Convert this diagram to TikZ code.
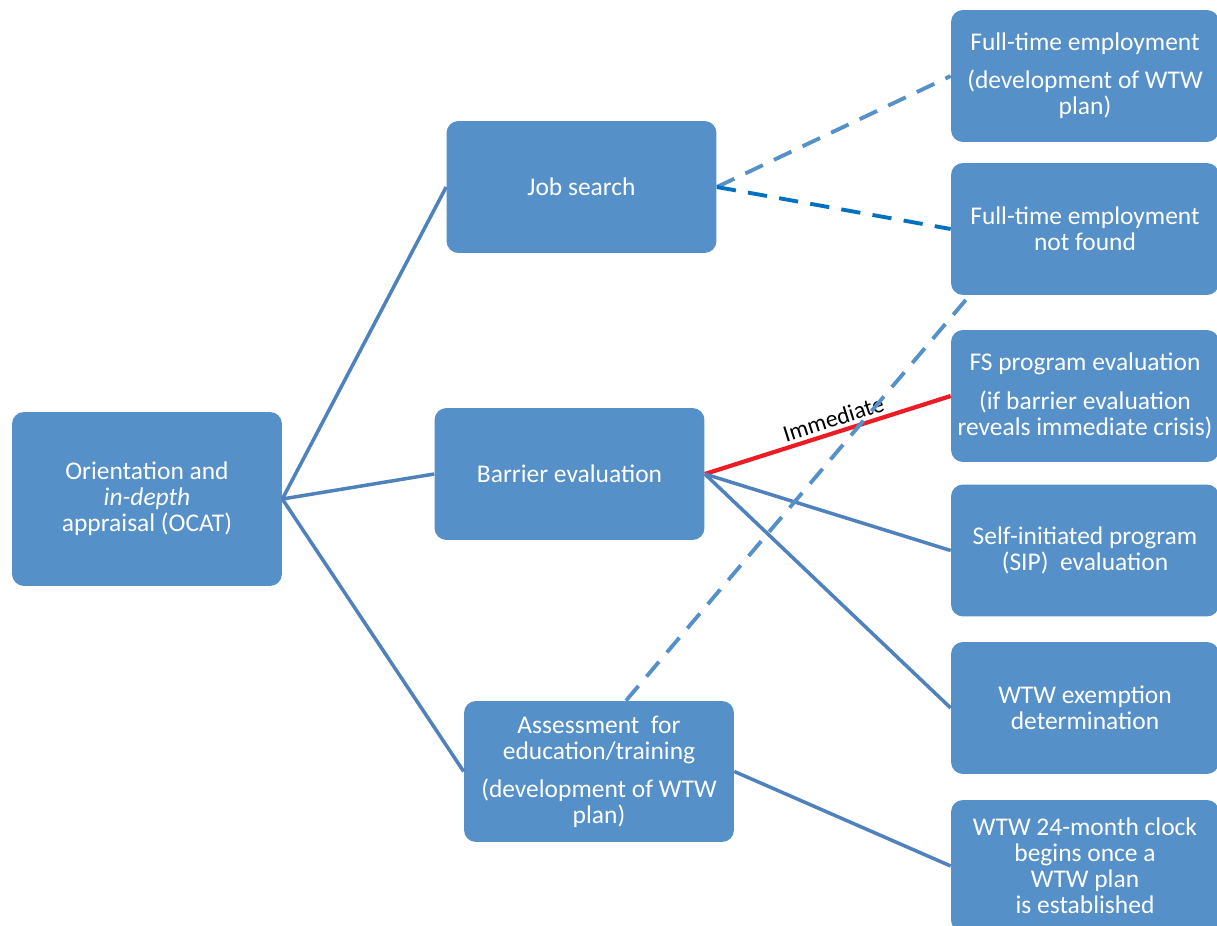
\documentclass[tikz,border=0pt]{standalone}
\usepackage{fontspec}
\setmainfont{Carlito}
\usepackage{xcolor}
\usetikzlibrary{positioning}
\definecolor{boxblue}{RGB}{85,144,200}
\definecolor{linkblue}{RGB}{79,129,189}
\definecolor{dashblue}{RGB}{0,112,192}
\definecolor{crisisred}{RGB}{237,28,36}

\begin{document}
\begin{tikzpicture}[x=0.02cm, y=-0.02cm,
    stepbox/.style={rectangle, rounded corners=0.24cm, fill=boxblue, text=white,
        align=center, inner sep=2pt, minimum width=5.4cm, minimum height=2.64cm,
        font=\fontsize{14.5}{14.8}\selectfont},
    link/.style={draw=linkblue, line width=2pt},
    maybe/.style={draw=boxblue, line width=2.2pt, dash pattern=on 11pt off 7pt}]
    \useasboundingbox (0,0) rectangle (1217,926);

    % Left column
    \node[stepbox, minimum height=3.48cm] (ocat) at (147,499) {Orientation and\\\textit{in-depth}\\appraisal (OCAT)};

    % Middle column
    \node[stepbox] (job) at (581.5,187) {Job search};
    \node[stepbox] (barrier) at (569.5,474) {Barrier evaluation};
    \node[stepbox, minimum height=2.82cm] (assess) at (599,771.5) {Assessment\ \ for\\education/training\\[7pt](development of WTW\\plan)};

    % Right column
    \node[stepbox, minimum width=5.36cm] (fulltime) at (1085,76) {Full-time employment\\[7pt](development of WTW\\plan)};
    \node[stepbox, minimum width=5.36cm] (notfound) at (1085,229) {Full-time employment\\not found};
    \node[stepbox, minimum width=5.36cm] (fsprog) at (1085,396) {FS program evaluation\\[7pt](if barrier evaluation\\reveals immediate crisis)};
    \node[stepbox, minimum width=5.36cm] (sip) at (1085,550.5) {Self-initiated program\\(SIP)\ \ evaluation};
    \node[stepbox, minimum width=5.36cm] (exempt) at (1085,708) {WTW exemption\\determination};
    \node[stepbox, minimum width=5.36cm] (clock) at (1085,866) {WTW 24-month clock\\begins once a\\WTW plan\\is established};

    % Links
    \draw[link] (ocat.east) -- (job.west);
    \draw[link] (ocat.east) -- (barrier.west);
    \draw[link] (ocat.east) -- (assess.west);
    \draw[maybe] (job.east) -- (fulltime.west);
    \draw[maybe, draw=dashblue] (job.east) -- (notfound.west);
    \draw[link, draw=crisisred, line width=2.4pt] (barrier.east) -- node[above, sloped, pos=0.54, inner sep=2pt, text=black, font=\fontsize{13.5}{15}\selectfont] {Immediate} (fsprog.west);
    \draw[link] (barrier.east) -- (sip.west);
    \draw[link] (barrier.east) -- (exempt.west);
    \draw[link] (assess.east) -- (clock.west);
    \draw[maybe] ([xshift=0.54cm]assess.north) -- ([xshift=0.38cm]notfound.south west);
\end{tikzpicture}
\end{document}
